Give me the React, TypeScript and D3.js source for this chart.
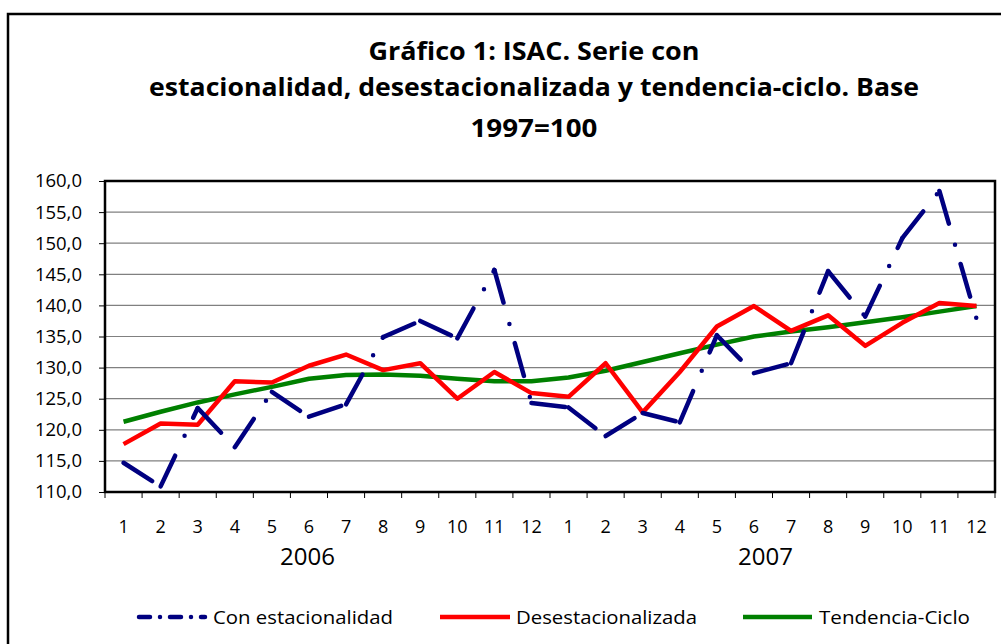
import { useEffect, useRef } from "react";
import * as d3 from "d3";

const months = ["1", "2", "3", "4", "5", "6", "7", "8", "9", "10", "11", "12",
  "1", "2", "3", "4", "5", "6", "7", "8", "9", "10", "11", "12"];
const years = ["2006", "2007"];
const yTicks = [110, 115, 120, 125, 130, 135, 140, 145, 150, 155, 160];

const conEstacionalidad = [114.7, 110.9, 123.5, 117.2, 126.1, 122.1, 124.1, 134.9, 137.5, 134.7, 145.7, 124.3,
  123.6, 119.0, 122.7, 121.2, 135.2, 129.1, 130.7, 145.5, 138.2, 150.8, 158.4, 137.9];
const desestacionalizada = [117.7, 121.0, 120.8, 127.8, 127.6, 130.3, 132.1, 129.6, 130.7, 125.0, 129.3, 125.9,
  125.3, 130.7, 122.8, 129.3, 136.6, 139.9, 135.9, 138.4, 133.5, 137.2, 140.4, 139.9];
const tendenciaCiclo = [121.3, 122.9, 124.4, 125.7, 126.9, 128.2, 128.8, 128.9, 128.7, 128.2, 127.8, 127.8,
  128.4, 129.5, 130.9, 132.3, 133.7, 135.0, 135.8, 136.5, 137.3, 138.1, 139.0, 139.9];

const titleLines = [
  "Gráfico 1: ISAC. Serie con",
  "estacionalidad, desestacionalizada y tendencia-ciclo. Base",
  "1997=100",
];

const FONT = "'Open Sans', 'Noto Sans', sans-serif";
const NAVY = "#000080";
const RED = "#ff0000";
const GREEN = "#008000";

const App = () => {
  const svgRef = useRef<SVGSVGElement>(null);

  useEffect(() => {
    const W = 1001;
    const H = 644;
    const plot = { left: 105, right: 995, top: 181, bottom: 492 };

    const svg = d3.select(svgRef.current).attr("width", W).attr("height", H);
    svg.selectAll("*").remove();

    svg.append("rect").attr("width", W).attr("height", H).attr("fill", "#fff");

    // outer chart frame (runs off the right/bottom of the picture)
    svg.append("rect")
      .attr("x", 8).attr("y", 14).attr("width", 1010).attr("height", 660)
      .attr("fill", "none").attr("stroke", "#000").attr("stroke-width", 2.5);

    // title
    const titleX = 534;
    const titleY = [60, 96, 137];
    const titleW = [331, 770, 127];
    svg.selectAll(".title")
      .data(titleLines)
      .enter()
      .append("text")
      .attr("x", titleX)
      .attr("y", (d, i) => titleY[i])
      .attr("text-anchor", "middle")
      .attr("font-family", FONT)
      .attr("font-weight", "bold")
      .attr("font-size", 25)
      .attr("textLength", (d, i) => titleW[i])
      .attr("lengthAdjust", "spacingAndGlyphs")
      .text((d) => d);

    const x = d3.scaleBand<number>()
      .domain(d3.range(months.length))
      .range([plot.left, plot.right])
      .padding(0);
    const cx = (i: number) => (x(i) as number) + x.bandwidth() / 2;

    const y = d3.scaleLinear().domain([110, 160]).range([plot.bottom, plot.top]);

    // gridlines
    svg.append("g")
      .selectAll("line")
      .data(yTicks.filter((t) => t > 110 && t < 160))
      .enter()
      .append("line")
      .attr("x1", plot.left).attr("x2", plot.right)
      .attr("y1", (d) => y(d)).attr("y2", (d) => y(d))
      .attr("stroke", "#808080").attr("stroke-width", 1.2);

    // y axis
    const yAxis = svg.append("g")
      .attr("transform", `translate(${plot.left},0)`)
      .call(d3.axisLeft(y).tickValues(yTicks).tickSize(6).tickFormat((d) => d3.format(".1f")(d as number).replace(".", ",")));
    yAxis.select(".domain").remove();
    yAxis.selectAll(".tick line").attr("stroke", "#000").attr("stroke-width", 1);
    yAxis.selectAll(".tick text")
      .attr("x", -23)
      .attr("font-family", FONT)
      .attr("font-size", 18.5)
      .attr("fill", "#000");

    // x ticks
    const xTicks = d3.range(months.length + 1).map((i) => plot.left + i * x.bandwidth());
    svg.append("g")
      .selectAll("line")
      .data(xTicks)
      .enter()
      .append("line")
      .attr("x1", (d) => d).attr("x2", (d) => d)
      .attr("y1", plot.bottom).attr("y2", plot.bottom + 6)
      .attr("stroke", "#000").attr("stroke-width", 1);

    svg.append("g")
      .selectAll("text")
      .data(months)
      .enter()
      .append("text")
      .attr("x", (d, i) => cx(i))
      .attr("y", 533)
      .attr("text-anchor", "middle")
      .attr("font-family", FONT)
      .attr("font-size", 18)
      .text((d) => d);

    // year labels under each group of 12 months
    const yearX = years.map((d, i) => plot.left + (i * 12 + 6) * x.bandwidth() + (i === 0 ? -20 : -7));
    svg.append("g")
      .selectAll("text")
      .data(years)
      .enter()
      .append("text")
      .attr("x", (d, i) => yearX[i])
      .attr("y", 565)
      .attr("text-anchor", "middle")
      .attr("font-family", FONT)
      .attr("font-size", 24)
      .text((d) => d);

    // plot frame
    svg.append("rect")
      .attr("x", plot.left).attr("y", plot.top)
      .attr("width", plot.right - plot.left).attr("height", plot.bottom - plot.top)
      .attr("fill", "none").attr("stroke", "#000").attr("stroke-width", 2.5);

    const line = d3.line<number>().x((d, i) => cx(i)).y((d) => y(d));

    svg.append("path")
      .datum(tendenciaCiclo)
      .attr("d", line)
      .attr("fill", "none").attr("stroke", GREEN).attr("stroke-width", 4.5)
      .attr("stroke-linejoin", "round");

    svg.append("path")
      .datum(desestacionalizada)
      .attr("d", line)
      .attr("fill", "none").attr("stroke", RED).attr("stroke-width", 4.5)
      .attr("stroke-linejoin", "round");

    // long dash-dot, the pattern starts over at every point
    const segs = d3.pairs(conEstacionalidad.map((v, i) => [cx(i), y(v)]));
    svg.append("g")
      .selectAll("line")
      .data(segs)
      .enter()
      .append("line")
      .attr("x1", (d) => d[0][0]).attr("y1", (d) => d[0][1])
      .attr("x2", (d) => d[1][0]).attr("y2", (d) => d[1][1])
      .attr("stroke", NAVY).attr("stroke-width", 4.5)
      .attr("stroke-linecap", "round")
      .attr("stroke-dasharray", "34 22 0 20");

    // legend
    const legend = [
      { name: "Con estacionalidad", color: NAVY, x0: 139, x1: 205, tx: 213, tw: 180, dash: "11 10 0 10" },
      { name: "Desestacionalizada", color: RED, x0: 440, x1: 510, tx: 516, tw: 181, dash: null },
      { name: "Tendencia-Ciclo", color: GREEN, x0: 743, x1: 812, tx: 819, tw: 151, dash: null },
    ];
    const lg = svg.append("g")
      .selectAll("g")
      .data(legend)
      .enter()
      .append("g");
    lg.append("line")
      .attr("x1", (d) => d.x0).attr("x2", (d) => d.x1)
      .attr("y1", 617).attr("y2", 617)
      .attr("stroke", (d) => d.color).attr("stroke-width", 4.5)
      .attr("stroke-linecap", (d) => (d.dash ? "round" : "butt"))
      .attr("stroke-dasharray", (d) => d.dash);
    lg.append("text")
      .attr("x", (d) => d.tx).attr("y", 624)
      .attr("font-family", FONT)
      .attr("font-size", 18)
      .attr("textLength", (d) => d.tw)
      .attr("lengthAdjust", "spacingAndGlyphs")
      .text((d) => d.name);
  }, []);

  return <svg ref={svgRef} style={{ position: "absolute", left: 0, top: 0 }} />;
};

export default App;
